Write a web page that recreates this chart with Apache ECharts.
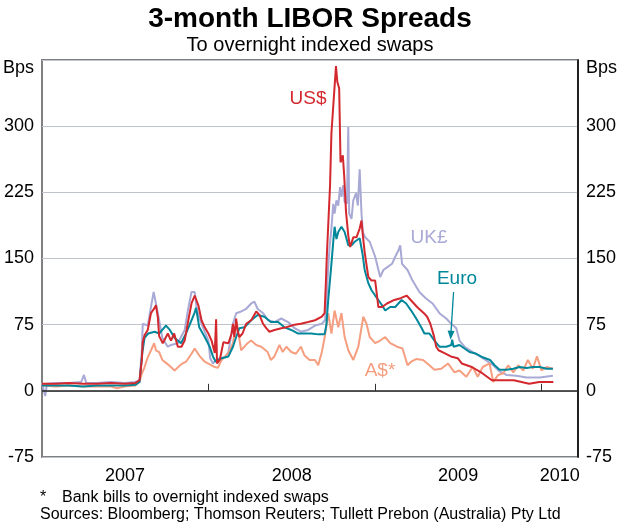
<!DOCTYPE html>
<html>
<head>
<meta charset="utf-8">
<script src="https://cdn.jsdelivr.net/npm/echarts@6/dist/echarts.min.js"></script>
<style>
html,body{margin:0;padding:0;background:#fff;}
#chart{width:620px;height:526px;}
</style>
</head>
<body>
<div id="chart"></div>
<script>
// ---- Data (basis points) ----
var usd = [
['2007-01-01',8],['2007-02-01',8],['2007-03-01',9],['2007-04-01',8],['2007-05-01',8],['2007-06-01',9],['2007-07-01',8],['2007-07-25',9],
['2007-08-03',12],['2007-08-08',35],['2007-08-10',55],['2007-08-14',63],['2007-08-21',69],['2007-08-28',88],['2007-09-05',94],['2007-09-08',97],
['2007-09-12',84],['2007-09-15',62],['2007-09-23',54],['2007-10-04',65],['2007-10-11',57],['2007-10-18',65],['2007-10-26',50],['2007-11-03',50],
['2007-11-10',57],['2007-11-18',80],['2007-11-25',99],['2007-12-02',108],['2007-12-10',97],['2007-12-17',80],['2007-12-24',72],['2008-01-01',65],
['2008-01-08',57],['2008-01-15',43],['2008-01-18',81],['2008-01-20',31],['2008-01-26',35],['2008-02-03',55],['2008-02-14',54],['2008-02-21',65],
['2008-02-24',76],['2008-02-27',61],['2008-03-02',82],['2008-03-05',68],['2008-03-09',61],['2008-03-16',65],['2008-03-24',76],['2008-04-04',80],
['2008-04-15',90],['2008-04-22',86],['2008-04-30',76],['2008-05-07',71],['2008-05-14',67],['2008-05-25',69],['2008-06-09',71],['2008-06-20',72],
['2008-07-08',75],['2008-07-22',76],['2008-08-07',78],['2008-08-22',80],['2008-09-06',84],['2008-09-12',88],['2008-09-15',125],['2008-09-17',154],
['2008-09-24',233],['2008-09-27',292],['2008-10-01',292],['2008-10-07',368],['2008-10-10',350],['2008-10-14',343],['2008-10-17',259],['2008-10-22',267],
['2008-10-25',244],['2008-10-29',203],['2008-11-03',176],['2008-11-07',163],['2008-11-14',174],['2008-11-21',174],['2008-11-28',184],['2008-12-02',193],
['2008-12-05',176],['2008-12-09',157],['2008-12-17',129],['2008-12-24',125],['2009-01-01',125],['2009-01-08',95],['2009-01-16',95],['2009-01-27',99],
['2009-02-12',103],['2009-02-26',105],['2009-03-11',108],['2009-03-20',103],['2009-04-03',95],['2009-04-18',88],['2009-04-25',84],['2009-05-02',76],
['2009-05-10',62],['2009-05-15',50],['2009-05-20',46],['2009-06-01',43],['2009-06-16',39],['2009-07-01',37],['2009-07-10',31],['2009-08-01',27],
['2009-08-24',20],['2009-09-14',12],['2009-10-05',12],['2009-11-01',12],['2009-12-05',8],['2009-12-27',10],['2010-01-27',10]
];
var gbp = [
['2007-01-01',9],['2007-01-08',-6],['2007-01-12',8],['2007-02-01',9],['2007-03-01',9],['2007-03-28',10],['2007-04-03',18],['2007-04-08',9],
['2007-05-01',9],['2007-06-01',10],['2007-07-01',9],['2007-07-25',10],['2007-08-03',12],['2007-08-08',45],['2007-08-10',76],['2007-08-14',76],
['2007-08-21',74],['2007-08-28',95],['2007-09-03',112],['2007-09-07',110],['2007-09-15',80],['2007-09-22',60],['2007-10-04',50],['2007-10-11',52],
['2007-10-26',54],['2007-11-10',69],['2007-11-17',91],['2007-11-25',112],['2007-12-02',112],['2007-12-07',91],['2007-12-17',76],['2008-01-01',57],
['2008-01-05',37],['2008-01-11',31],['2008-01-18',35],['2008-01-26',37],['2008-02-07',38],['2008-02-14',44],['2008-02-24',76],['2008-03-02',88],
['2008-03-13',90],['2008-03-24',93],['2008-04-04',99],['2008-04-11',101],['2008-04-18',93],['2008-04-30',88],['2008-05-11',80],['2008-05-25',78],
['2008-06-09',82],['2008-06-24',78],['2008-07-08',71],['2008-07-22',67],['2008-08-07',69],['2008-08-22',74],['2008-09-06',76],['2008-09-13',80],
['2008-09-17',110],['2008-09-20',140],['2008-09-23',163],['2008-09-27',184],['2008-10-01',212],['2008-10-04',201],['2008-10-08',216],['2008-10-12',210],
['2008-10-16',231],['2008-10-19',220],['2008-10-23',233],['2008-10-26',214],['2008-10-31',212],['2008-11-03',299],['2008-11-05',201],['2008-11-10',195],
['2008-11-14',216],['2008-11-20',224],['2008-11-24',210],['2008-11-28',251],['2008-12-02',201],['2008-12-05',180],['2008-12-10',174],['2008-12-20',169],
['2009-01-01',152],['2009-01-12',129],['2009-01-19',137],['2009-01-27',140],['2009-02-07',144],['2009-02-14',152],['2009-02-21',159],['2009-02-25',165],
['2009-03-01',144],['2009-03-13',137],['2009-03-24',125],['2009-04-08',112],['2009-04-22',105],['2009-05-07',99],['2009-05-22',88],['2009-06-06',82],
['2009-06-13',78],['2009-06-28',71],['2009-07-05',57],['2009-07-16',50],['2009-08-03',44],['2009-08-25',37],['2009-09-17',29],['2009-10-01',22],
['2009-10-16',18],['2009-11-07',17],['2009-11-29',15],['2009-12-28',15],['2010-01-26',17]
];
var eur = [
['2007-01-01',6],['2007-02-01',6],['2007-03-01',6],['2007-04-01',5],['2007-05-01',6],['2007-06-01',6],['2007-07-01',6],['2007-07-25',7],
['2007-08-03',10],['2007-08-09',43],['2007-08-14',60],['2007-08-22',65],['2007-09-05',67],['2007-09-15',65],['2007-09-30',74],['2007-10-07',70],
['2007-10-19',60],['2007-11-02',54],['2007-11-13',65],['2007-11-25',80],['2007-12-02',89],['2007-12-05',94],['2007-12-12',72],['2007-12-24',61],
['2008-01-04',50],['2008-01-11',39],['2008-01-17',33],['2008-01-30',37],['2008-02-14',39],['2008-02-24',50],['2008-03-02',61],['2008-03-09',71],
['2008-03-20',72],['2008-04-04',80],['2008-04-18',86],['2008-05-03',84],['2008-05-17',78],['2008-06-02',78],['2008-06-16',72],['2008-07-01',69],
['2008-07-15',65],['2008-07-30',65],['2008-08-14',65],['2008-08-29',64],['2008-09-12',64],['2008-09-16',75],['2008-09-20',103],['2008-09-27',144],
['2008-10-02',175],['2008-10-04',186],['2008-10-08',172],['2008-10-12',180],['2008-10-16',178],['2008-10-19',186],['2008-10-26',180],['2008-11-03',165],
['2008-11-10',165],['2008-11-17',169],['2008-11-28',173],['2008-12-04',156],['2008-12-09',137],['2008-12-17',122],['2008-12-24',114],['2009-01-01',108],
['2009-01-08',103],['2009-01-16',97],['2009-01-23',91],['2009-02-03',95],['2009-02-14',95],['2009-02-28',103],['2009-03-10',99],['2009-03-21',91],
['2009-04-01',82],['2009-04-12',72],['2009-04-19',65],['2009-04-30',65],['2009-05-11',57],['2009-05-22',50],['2009-06-06',50],['2009-06-17',52],
['2009-06-19',58],['2009-06-22',50],['2009-07-05',52],['2009-07-16',48],['2009-07-27',44],['2009-08-11',42],['2009-08-25',38],['2009-09-10',35],
['2009-09-20',29],['2009-10-01',24],['2009-10-16',24],['2009-10-31',25],['2009-11-14',27],['2009-11-29',26],['2009-12-13',27],['2009-12-28',27],
['2010-01-12',25],['2010-01-26',25]
];
var aud = [
['2007-01-01',6],['2007-02-01',5],['2007-03-01',6],['2007-04-01',5],['2007-05-01',5],['2007-06-01',5],['2007-06-15',3],['2007-07-01',5],
['2007-07-25',6],['2007-08-03',10],['2007-08-07',18],['2007-08-14',27],['2007-08-21',38],['2007-08-30',48],['2007-09-04',54],['2007-09-08',46],
['2007-09-15',44],['2007-09-22',35],['2007-10-04',30],['2007-10-19',23],['2007-11-02',30],['2007-11-13',33],['2007-11-25',42],['2007-12-02',48],
['2007-12-12',40],['2007-12-24',33],['2008-01-04',30],['2008-01-15',27],['2008-01-22',26],['2008-01-30',35],['2008-02-14',43],['2008-02-24',54],
['2008-02-27',65],['2008-03-03',78],['2008-03-13',46],['2008-03-27',54],['2008-04-04',57],['2008-04-15',52],['2008-04-26',50],['2008-05-10',44],
['2008-05-17',35],['2008-05-25',39],['2008-06-05',52],['2008-06-12',44],['2008-06-20',50],['2008-07-01',44],['2008-07-11',42],['2008-07-22',50],
['2008-07-30',40],['2008-08-10',35],['2008-08-22',35],['2008-08-29',29],['2008-09-06',44],['2008-09-13',63],['2008-09-20',88],['2008-09-27',65],
['2008-10-04',91],['2008-10-12',72],['2008-10-19',88],['2008-10-26',61],['2008-11-03',46],['2008-11-14',35],['2008-11-25',50],['2008-12-06',84],
['2008-12-13',76],['2008-12-20',61],['2009-01-01',54],['2009-01-12',57],['2009-01-23',61],['2009-02-03',54],['2009-02-18',50],['2009-03-02',48],
['2009-03-13',29],['2009-03-21',33],['2009-04-01',36],['2009-04-16',35],['2009-04-30',29],['2009-05-11',24],['2009-05-26',25],['2009-06-10',31],
['2009-06-24',21],['2009-07-05',23],['2009-07-20',16],['2009-08-03',27],['2009-08-14',16],['2009-08-25',27],['2009-09-09',31],['2009-09-17',10],
['2009-09-28',18],['2009-10-09',20],['2009-10-20',29],['2009-10-31',21],['2009-11-11',29],['2009-11-22',23],['2009-12-02',35],['2009-12-13',25],
['2009-12-22',39],['2010-01-01',23],['2010-01-12',27],['2010-01-26',25]
];
var yTicks = [-75, 0, 75, 150, 225, 300, 375];
var yearTicks = ['2008-01-01', '2009-01-01', '2010-01-01'];
var yearLabelDates = ['2007-07-02', '2008-07-02', '2009-07-02', '2010-02-10'];
var euroArrow = [['2009-06-22', 112], ['2009-06-16', 63]];

// ---- Chart ----
function ts(s) { var p = s.split('-'); return Date.UTC(+p[0], +p[1] - 1, +p[2]); }
function conv(arr) { return arr.map(function (d) { return [ts(d[0]), d[1]]; }); }

var FONT = '"Liberation Sans", Arial, sans-serif';
var C_US = '#d3282e', C_UK = '#a9a9d6', C_EU = '#00889a', C_AU = '#f59e80';

function yLabel(margin) {
  return {
    margin: margin, fontSize: 18, fontFamily: FONT, color: '#000',
    formatter: function (v) { return v === 375 ? '{b|Bps}' : String(v); },
    rich: { b: { fontSize: 18, fontFamily: FONT, color: '#000', padding: [17, 0, 0, 0] } }
  };
}

var chart = echarts.init(document.getElementById('chart'), null, { renderer: 'canvas' });
chart.setOption({
  animation: false,
  backgroundColor: '#fff',
  title: [
    { text: '3-month LIBOR Spreads', left: 'center', top: 0,
      textStyle: { fontSize: 28, fontWeight: 'bold', fontFamily: FONT, color: '#000' } },
    { text: 'To overnight indexed swaps', left: 'center', top: 30,
      textStyle: { fontSize: 20, fontWeight: 'normal', fontFamily: FONT, color: '#000' } }
  ],
  grid: { left: 41, right: 41, top: 60, bottom: 69, show: true, borderColor: '#808080', borderWidth: 2, backgroundColor: 'transparent' },
  xAxis: {
    type: 'value',
    min: ts('2007-01-01'), max: ts('2010-03-22'),
    axisLine: { show: false },
    splitLine: { show: false },
    axisTick: { show: true, inside: true, length: 7, customValues: yearTicks.map(ts), lineStyle: { color: '#333', width: 1 } },
    axisLabel: { show: true, margin: 10, fontSize: 18, fontFamily: FONT, color: '#000',
      customValues: yearLabelDates.map(ts),
      formatter: function (v) { return String(new Date(v).getUTCFullYear()); } }
  },
  yAxis: [
    { type: 'value', min: -75, max: 375, interval: 75, position: 'left',
      axisLine: { show: false }, axisTick: { show: false },
      axisLabel: yLabel(8),
      splitLine: { show: true, lineStyle: { color: '#bfc3cc', width: 1 } } },
    { type: 'value', min: -75, max: 375, interval: 75, position: 'right',
      axisLine: { show: true, lineStyle: { color: '#000', width: 1.5 } }, axisTick: { show: false },
      axisLabel: yLabel(8),
      splitLine: { show: false } }
  ],
  series: [
    { name: 'UK£', type: 'line', data: conv(gbp), showSymbol: false, symbol: 'none',
      lineStyle: { color: C_UK, width: 2 }, itemStyle: { color: C_UK },
      markLine: { silent: true, symbol: 'none', label: { show: false },
        lineStyle: { color: '#222', width: 1.5, type: 'solid' }, data: [{ yAxis: 0 }] } },
    { name: 'A$', type: 'line', data: conv(aud), showSymbol: false, symbol: 'none',
      lineStyle: { color: C_AU, width: 2 }, itemStyle: { color: C_AU } },
    { name: 'Euro', type: 'line', data: conv(eur), showSymbol: false, symbol: 'none',
      lineStyle: { color: C_EU, width: 2 }, itemStyle: { color: C_EU },
      markLine: { silent: true, symbol: ['none', 'triangle'], symbolSize: [7, 9], label: { show: false },
        lineStyle: { color: C_EU, width: 1.3, type: 'solid' },
        data: [[{ coord: [ts(euroArrow[0][0]), euroArrow[0][1]] }, { coord: [ts(euroArrow[1][0]), euroArrow[1][1]] }]] } },
    { name: 'US$', type: 'line', data: conv(usd), showSymbol: false, symbol: 'none',
      lineStyle: { color: C_US, width: 2 }, itemStyle: { color: C_US } }
  ],
  graphic: [
    { type: 'text', x: 308, y: 99, style: { text: 'US$', fill: C_US, font: '19px ' + FONT, align: 'center', verticalAlign: 'middle' } },
    { type: 'text', x: 429, y: 238, style: { text: 'UK£', fill: C_UK, font: '19px ' + FONT, align: 'center', verticalAlign: 'middle' } },
    { type: 'text', x: 457, y: 279, style: { text: 'Euro', fill: C_EU, font: '19px ' + FONT, align: 'center', verticalAlign: 'middle' } },
    { type: 'text', x: 380, y: 371, style: { text: 'A$*', fill: C_AU, font: '19px ' + FONT, align: 'center', verticalAlign: 'middle' } },
    { type: 'text', x: 40, y: 498, style: { text: '*', fill: '#000', font: '16px ' + FONT, align: 'left', verticalAlign: 'middle' } },
    { type: 'text', x: 62, y: 498, style: { text: 'Bank bills to overnight indexed swaps', fill: '#000', font: '16px ' + FONT, align: 'left', verticalAlign: 'middle' } },
    { type: 'text', x: 40, y: 515, style: { text: 'Sources: Bloomberg; Thomson Reuters; Tullett Prebon (Australia) Pty Ltd', fill: '#000', font: '16px ' + FONT, align: 'left', verticalAlign: 'middle' } }
  ]
});
</script>
</body>
</html>
